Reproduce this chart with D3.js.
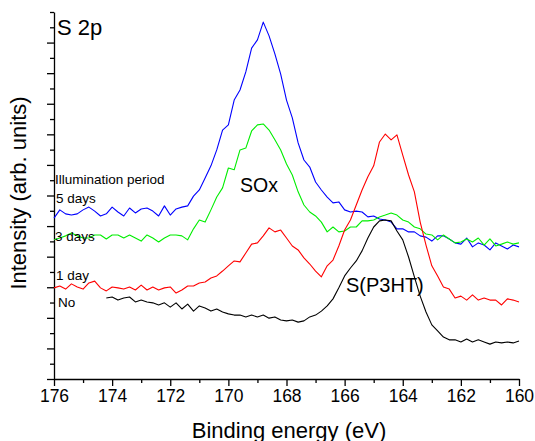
<!DOCTYPE html>
<html>
<head>
<meta charset="utf-8">
<script src="https://cdn.jsdelivr.net/npm/d3@7"></script>
<style>
  html, body { margin: 0; padding: 0; background: #fff; }
  svg { display: block; font-family: "Liberation Sans", Arial, sans-serif; }
  .axis path, .axis line { stroke: #000; stroke-width: 1.3; }
  .axis text { font-family: "Liberation Sans", Arial, sans-serif; font-size: 17.5px; fill: #000; }
</style>
</head>
<body>
<svg id="chart" width="535" height="441"></svg>
<script>
// Binding energy grid (eV), 0.2 eV steps from 176 down to 160
const energies = [
  176.0,175.8,175.6,175.4,175.2,175.0,174.8,174.6,174.4,174.2,
  174.0,173.8,173.6,173.4,173.2,173.0,172.8,172.6,172.4,172.2,
  172.0,171.8,171.6,171.4,171.2,171.0,170.8,170.6,170.4,170.2,
  170.0,169.8,169.6,169.4,169.2,169.0,168.8,168.6,168.4,168.2,
  168.0,167.8,167.6,167.4,167.2,167.0,166.8,166.6,166.4,166.2,
  166.0,165.8,165.6,165.4,165.2,165.0,164.8,164.6,164.4,164.2,
  164.0,163.8,163.6,163.4,163.2,163.0,162.8,162.6,162.4,162.2,
  162.0,161.8,161.6,161.4,161.2,161.0,160.8,160.6,160.4,160.2,
  160.0
];

// S 2p intensity (arb. units, stacked offsets) for each illumination period
const days5 = [
  5.26,5.53,5.40,5.36,5.40,5.53,5.62,5.49,5.33,5.40,
  5.62,5.46,5.33,5.59,5.43,5.56,5.59,5.49,5.33,5.66,
  5.36,5.56,5.62,5.66,5.98,6.18,6.57,6.97,7.49,8.14,
  8.31,9.12,9.45,10.04,10.82,11.09,11.67,11.22,10.63,9.97,
  9.12,8.54,7.72,7.16,6.93,6.44,6.18,5.95,5.76,5.79,
  5.53,5.46,5.49,5.46,5.30,5.33,5.23,5.20,5.13,4.91,
  4.91,4.81,4.81,4.68,4.64,4.51,4.68,4.68,4.58,4.45,
  4.41,4.61,4.32,4.45,4.38,4.22,4.45,4.35,4.25,4.38,
  4.32
];
const days3 = [
  4.55,4.61,4.68,4.77,4.68,4.61,4.61,4.71,4.71,4.58,
  4.71,4.71,4.61,4.71,4.61,4.51,4.71,4.61,4.48,4.61,
  4.71,4.71,4.68,4.55,4.91,5.20,5.13,5.53,5.95,6.25,
  6.90,6.84,7.49,7.55,8.11,8.31,8.34,8.14,7.82,7.49,
  7.03,6.67,6.12,5.69,5.46,5.33,5.13,4.81,4.97,4.81,
  4.84,4.97,4.97,5.17,5.17,5.20,5.30,5.36,5.43,5.36,
  5.20,5.13,4.97,4.91,4.74,4.71,4.55,4.71,4.58,4.45,
  4.48,4.58,4.48,4.61,4.38,4.58,4.35,4.41,4.48,4.41,
  4.45
];
const day1 = [
  2.98,3.04,2.94,3.11,3.01,2.94,3.14,3.20,2.98,2.88,
  3.01,2.98,2.94,3.01,2.91,3.07,2.91,3.01,2.91,2.98,
  3.01,2.81,2.91,3.04,3.04,3.14,3.17,3.30,3.37,3.53,
  3.70,3.86,3.83,4.12,4.41,4.45,4.68,4.94,4.81,4.87,
  4.61,4.35,4.22,3.96,3.76,3.53,3.34,3.70,3.89,4.35,
  4.87,5.20,5.69,6.18,6.61,6.97,7.75,8.01,7.82,7.98,
  7.32,6.67,6.12,5.13,4.38,3.70,3.37,3.01,2.94,2.65,
  2.71,2.58,2.75,2.58,2.65,2.58,2.58,2.42,2.62,2.58,
  2.52
];
const noIllum = [
  null,null,null,null,null,null,null,null,null,
  2.65,2.68,2.58,2.65,2.68,2.52,2.58,2.52,2.49,2.42,
  2.49,2.35,2.49,2.29,2.45,2.22,2.39,2.32,2.22,2.29,
  2.19,2.13,2.09,2.09,2.03,2.09,2.03,2.09,1.99,2.03,
  1.93,1.90,1.93,1.86,1.90,2.03,2.09,2.22,2.39,2.62,
  2.98,3.37,3.63,3.86,4.19,4.61,4.97,5.17,5.20,5.17,
  4.84,4.55,3.99,3.34,2.71,2.19,1.77,1.57,1.37,1.28,
  1.28,1.21,1.31,1.21,1.28,1.21,1.14,1.21,1.18,1.21,
  1.18,1.24
];

const seriesNames = ["5 days", "3 days", "1 day", "No"];
const seriesColors = ["#0000ff", "#00ee00", "#ff0000", "#000000"];
const seriesValues = [days5, days3, day1, noIllum];

const xMajorTicks = [176, 174, 172, 170, 168, 166, 164, 162, 160];
const xMinorTicks = [175, 173, 171, 169, 167, 165, 163, 161];
const yMajorTicks = [0, 1, 2, 3, 4, 5, 6, 7, 8, 9, 10, 11];
const yMinorTicks = [0.5, 1.5, 2.5, 3.5, 4.5, 5.5, 6.5, 7.5, 8.5, 9.5, 10.5, 11.5, 12];

const svg = d3.select("#chart");
const plotLeft = 54, plotRight = 519, plotTop = 12, plotBottom = 379;

const x = d3.scaleLinear().domain([176, 160]).range([plotLeft, plotRight]);
const y = d3.scaleLinear().domain([0, 12]).range([plotBottom, plotTop]);

// x axis: labelled major ticks plus short minor ticks
svg.append("g").attr("class", "axis")
  .attr("transform", `translate(0,${plotBottom})`)
  .call(d3.axisBottom(x).tickValues(xMajorTicks).tickSize(7).tickSizeOuter(0).tickPadding(4)
        .tickFormat(d3.format("d")));
svg.append("g").attr("class", "axis")
  .attr("transform", `translate(0,${plotBottom})`)
  .call(d3.axisBottom(x).tickValues(xMinorTicks).tickSize(4).tickFormat(""))
  .call(g => g.select(".domain").remove());

// y axis: unlabelled ticks only
svg.append("g").attr("class", "axis")
  .attr("transform", `translate(${plotLeft},0)`)
  .call(d3.axisLeft(y).tickValues(yMajorTicks).tickSize(7).tickSizeOuter(0).tickFormat(""));
svg.append("g").attr("class", "axis")
  .attr("transform", `translate(${plotLeft},0)`)
  .call(d3.axisLeft(y).tickValues(yMinorTicks).tickSize(4).tickFormat(""))
  .call(g => g.select(".domain").remove());

// spectra
const line = d3.line()
  .defined(d => d.v != null)
  .x(d => x(d.e))
  .y(d => y(d.v));

seriesValues.forEach((vals, k) => {
  const pts = energies.map((e, i) => ({ e, v: vals[i] }));
  svg.append("path")
    .datum(pts)
    .attr("fill", "none")
    .attr("stroke", seriesColors[k])
    .attr("stroke-width", 1.1)
    .attr("stroke-linejoin", "round")
    .attr("d", line);
});

// annotations
const txt = (s, px, py, size, anchor) =>
  svg.append("text").attr("x", px).attr("y", py)
    .attr("font-size", size).attr("text-anchor", anchor || "start")
    .attr("fill", "#000").text(s);

txt("S 2p", 57, 35, 22);
txt("Illumination period", 55, 184, 13.5);
txt(seriesNames[0], 56, 203, 13.5);
txt(seriesNames[1], 55, 241, 13.5);
txt(seriesNames[2], 56, 280, 13.5);
txt(seriesNames[3], 58, 307, 13.5);
txt("SOx", 240, 192, 19.5);
txt("S(P3HT)", 346, 292, 20);

// axis titles
txt("Binding energy (eV)", 289, 438, 22, "middle");
svg.append("text")
  .attr("transform", "translate(26,193) rotate(-90)")
  .attr("text-anchor", "middle")
  .attr("font-size", 22)
  .attr("fill", "#000")
  .text("Intensity (arb. units)");
</script>
</body>
</html>
